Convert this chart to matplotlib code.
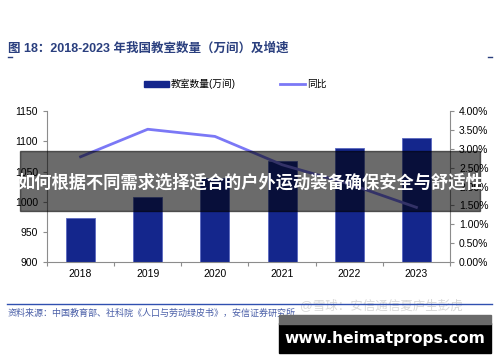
import matplotlib.pyplot as plt
from matplotlib.patches import Rectangle
from matplotlib.lines import Line2D

plt.rcParams['font.family'] = ['Liberation Sans', 'Noto Sans CJK SC', 'DejaVu Sans']

years = ['2018', '2019', '2020', '2021', '2022', '2023']
rooms = [973, 1007, 1040, 1067, 1089, 1105]
growth = [2.79, 3.52, 3.33, 2.58, 2.07, 1.45]

bar_color = '#14268c'
line_color = '#7b78f6'
axis_color = '#8c8c8c'

fig = plt.figure(figsize=(5.0, 3.62), dpi=100)
ax = fig.add_axes([0.094, 0.276, 0.806, 0.417])
ax2 = ax.twinx()

x = [i + 0.5 for i in range(len(years))]
ax.bar(x, [r - 900 for r in rooms], bottom=900, width=0.43, color=bar_color,
       edgecolor='#5a68c0', linewidth=0.6, zorder=2)
ax2.plot(x, growth, color=line_color, lw=2, zorder=3)

ax.set_xlim(0, 6)
ax.set_ylim(900, 1150)
ax.set_yticks(range(900, 1151, 50))
ax2.set_ylim(0, 4)
ax2.set_yticks([i * 0.5 for i in range(9)])
ax2.set_yticklabels(['%.2f%%' % (i * 0.5) for i in range(9)])

ax.set_xticks(range(7))
ax.set_xticklabels([])
ax.set_xticks(x, minor=True)
ax.set_xticklabels(years, minor=True)
ax.tick_params(axis='x', which='major', length=3, color=axis_color, direction='out')
ax.tick_params(axis='x', which='minor', length=0, labelsize=7.5, pad=5)
ax.tick_params(axis='y', length=3, color=axis_color, labelsize=7.5)
ax2.tick_params(axis='y', length=3, color=axis_color, labelsize=7.5)

for a in (ax, ax2):
    a.spines['top'].set_visible(False)
    for s in ('left', 'right', 'bottom'):
        a.spines[s].set_color(axis_color)
ax.spines['right'].set_visible(False)
ax2.spines['left'].set_visible(False)
ax2.spines['bottom'].set_visible(False)

# legend
handles = [Rectangle((0, 0), 1, 1, color=bar_color), Line2D([0], [0], color=line_color, lw=2)]
fig.legend(handles, ['教室数量(万间)', '同比'], loc='center', bbox_to_anchor=(0.47, 0.768),
           ncol=2, frameon=False, fontsize=7, handlelength=2.6, handleheight=0.6,
           columnspacing=4.5, handletextpad=0.2)

# title
fig.text(0.016, 0.867, '图 18：2018-2023 年我国教室数量（万间）及增速', fontsize=9,
         fontweight='bold', color='#2a3f7e', va='center')
fig.add_artist(Line2D([0.016, 0.024], [0.842, 0.842], color='#2a3f7e', lw=1))
fig.add_artist(Line2D([0.976, 0.984], [0.842, 0.842], color='#2a3f7e', lw=1))

# source line
fig.add_artist(Line2D([0.014, 0.984], [0.16, 0.16], color='#3050b0', lw=1))
fig.text(0.016, 0.135, '资料来源：中国教育部、社科院《人口与劳动绿皮书》，安信证券研究所',
         fontsize=6.5, style='italic', color='#4a5fa8', va='center')
fig.text(0.6, 0.155, '@雪球：安信通信夏庐生彭虎', fontsize=9, color='#d8d8d8',
         va='center', zorder=1)

# overlay banner
fig.add_artist(Rectangle((0.04, 0.417), 0.92, 0.166, transform=fig.transFigure,
                         color='black', alpha=0.58, zorder=10))
fig.text(0.5, 0.497, '如何根据不同需求选择适合的户外运动装备确保安全与舒适性', fontsize=12.4,
         fontweight='bold', color='white', ha='center', va='center', zorder=11)

# site box
fig.add_artist(Rectangle((0.558, 0.025), 0.424, 0.083, transform=fig.transFigure,
                         color='black', zorder=10))
fig.add_artist(Rectangle((0.558, 0.105), 0.424, 0.025, transform=fig.transFigure,
                         color='#6a6a6a', zorder=10))
fig.text(0.77, 0.066, 'www.heimatprops.com', fontsize=11.2, fontweight='bold',
         color='white', ha='center', va='center', zorder=11, family='DejaVu Sans')

fig.savefig('out.png', dpi=100)
